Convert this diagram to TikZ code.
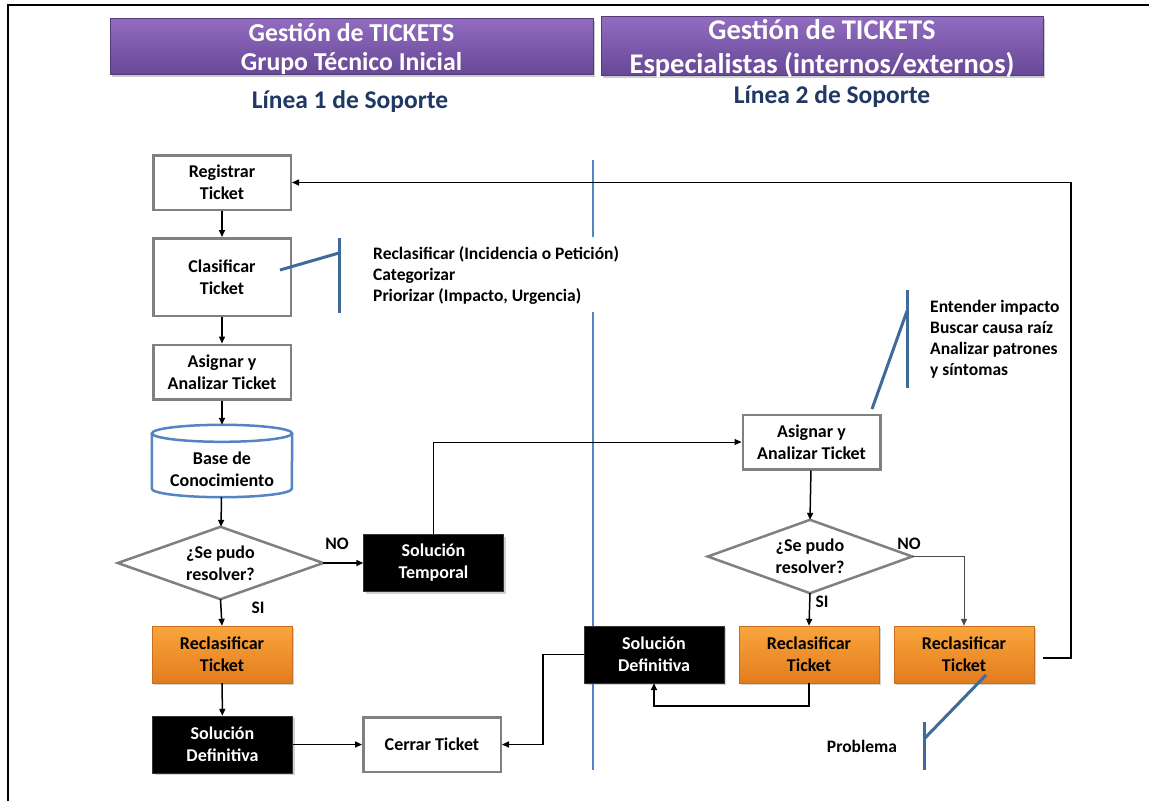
\documentclass[tikz,border=0pt]{standalone}
\usepackage{fontspec}
\setmainfont{Carlito}
\usetikzlibrary{arrows.meta,shadows,backgrounds}

\definecolor{boxgray}{RGB}{128,128,128}
\definecolor{annblue}{RGB}{64,106,154}
\definecolor{divblue}{RGB}{84,132,196}
\definecolor{navy}{RGB}{31,56,100}
\definecolor{purpTop}{RGB}{146,108,192}
\definecolor{purpBot}{RGB}{104,72,150}
\definecolor{orTop}{RGB}{250,165,60}
\definecolor{orBot}{RGB}{226,124,30}
\definecolor{orEdge}{RGB}{200,110,30}

\tikzset{
  txt/.style={font=\bfseries\fontsize{18}{22}\selectfont, align=center},
  plainbox/.style={txt, draw=boxgray, line width=2.5pt, fill=white,
    minimum width=137.5pt, minimum height=54.5pt, inner sep=1pt},
  blackbox/.style={txt, fill=black, draw=black!80, text=white,
    minimum width=140pt, minimum height=57pt, inner sep=1pt,
    drop shadow={opacity=0.35, shadow xshift=2pt, shadow yshift=-2pt}},
  orangebox/.style={txt, top color=orTop, bottom color=orBot, draw=orEdge,
    minimum width=140pt, minimum height=57pt, inner sep=1pt,
    drop shadow={opacity=0.35, shadow xshift=2pt, shadow yshift=-2pt}},
  header/.style={top color=purpTop, bottom color=purpBot, draw=purpBot!80!black,
    inner sep=0pt,
    drop shadow={opacity=0.4, shadow xshift=2pt, shadow yshift=-3pt}},
  headtext/.style={text=white, align=center, inner sep=0pt},
  slot/.style={txt, inner sep=0pt},
  grayline/.style={draw=boxgray, line width=2.5pt, line join=miter},
  conn/.style={line width=1.5pt, -{Triangle[length=7pt,width=6pt]}},
  thinconn/.style={line width=1pt, -{Triangle[length=7pt,width=6pt]}},
  ann/.style={draw=annblue, line width=3pt},
  note/.style={font=\bfseries\fontsize{17.5}{21}\selectfont, align=left,
    anchor=north west, inner sep=0pt},
  lbl/.style={font=\bfseries\fontsize{17.5}{20}\selectfont, inner sep=0pt},
}

\begin{document}
\begin{tikzpicture}[x=1pt,y=-1pt]
\useasboundingbox (0,0) rectangle (1149,801);
\begin{scope}[on background layer]
  \fill[white] (0,0) rectangle (1149,801);
\end{scope}

% page frame
\draw[line width=2.5pt] (8,801) -- (8,5) -- (1149,5);

% column headers
\node[header, minimum width=483pt, minimum height=56pt,
  label={[headtext, yshift=-2.5pt, font=\bfseries\fontsize{25.8}{29}\selectfont]center:{Gestión de TICKETS\\Grupo Técnico Inicial}}]
  (h1) at (351.5,46) {};
\node[header, minimum width=442pt, minimum height=59pt,
  label={[headtext, yshift=-3pt, font=\bfseries\fontsize{28.5}{34}\selectfont]center:{Gestión de TICKETS\\Especialistas (internos/externos)}}]
  (h2) at (822,45.5) {};
\node[text=navy, font=\bfseries\fontsize{25.5}{28}\selectfont] (l1) at (350,102) {Línea 1 de Soporte};
\node[text=navy, font=\bfseries\fontsize{25.5}{28}\selectfont] (l2) at (832,97) {Línea 2 de Soporte};

% divider between support lines
\draw[divblue, line width=1.5pt] (593,160) -- (593,237);
\draw[divblue, line width=1.5pt] (593,312) -- (593,770);

% first line of support
\node[plainbox] (reg) at (222,182.5) {Registrar\\Ticket};
\node[plainbox, minimum height=77.5pt] (cla) at (222,277) {Clasificar\\Ticket};
\node[plainbox] (asg) at (222,372) {Asignar y\\Analizar Ticket};

% knowledge base (cylinder drawn around the node)
\node[slot, minimum width=140pt, minimum height=72pt,
  label={[txt, yshift=-8pt]center:{Base de\\Conocimiento}}] (kb) at (222,461) {};
\draw[draw=divblue, line width=2.5pt]
  ([yshift=-8.5pt]kb.north west) -- ([yshift=8.5pt]kb.south west)
  arc[start angle=180, end angle=360, x radius=70pt, y radius=8.5pt]
  -- ([yshift=-8.5pt]kb.north east);
\draw[draw=divblue, line width=2.5pt] ([yshift=-8.5pt]kb.north) ellipse [x radius=70pt, y radius=8.5pt];

% decision 1
\node[slot, minimum width=205pt, minimum height=72pt] (d1) at (220.5,563) {¿Se pudo\\resolver?};
\draw[grayline] (d1.north) -- (d1.east) -- (d1.south) -- (d1.west) -- cycle;

\node[blackbox] (tmp) at (433.5,563) {Solución\\Temporal};
\node[orangebox] (rc1) at (222,654.5) {Reclasificar\\Ticket};
\node[blackbox] (def1) at (222.5,744.5) {Solución\\Definitiva};
\node[plainbox] (close) at (432,744.5) {Cerrar Ticket};

% second line of support
\node[plainbox] (asg2) at (811.5,442) {Asignar y\\Analizar Ticket};
\node[slot, minimum width=204pt, minimum height=73pt] (d2) at (810,556.5) {¿Se pudo\\resolver?};
\draw[grayline] (d2.north) -- (d2.east) -- (d2.south) -- (d2.west) -- cycle;

\node[blackbox] (def2) at (654,654.5) {Solución\\Definitiva};
\node[orangebox] (rc2) at (809,654.5) {Reclasificar\\Ticket};
\node[orangebox] (rc3) at (964,654.5) {Reclasificar\\Ticket};

% branch labels
\node[lbl] (no1) at (337,544) {NO};
\node[lbl] (si1) at (258,608) {SI};
\node[lbl] (no2) at (909,544) {NO};
\node[lbl] (si2) at (822,602) {SI};

% flow connectors
\draw[conn] (reg) -- (cla);
\draw[conn] (cla) -- (asg);
\draw[conn] (asg) -- (kb);
\draw[conn] (kb) -- (d1);
\draw[conn] (d1.east) -- (tmp.west);
\draw[conn] (d1.south) -- (rc1.north);
\draw[conn] (rc1) -- (def1);
\draw[conn] (def1) -- (close);
\draw[thinconn] (tmp.north) |- (asg2.west);
\draw[conn] (asg2) -- (d2.north);
\draw[conn] (d2.south) -- (rc2.north);
\draw[thinconn, draw=black!70] (d2.east) -| (rc3.north);
\draw[conn] (rc2.south) -- ++(0,23) -| (def2.south);
\draw[conn] (def2.west) -- ++(-41,0) |- (close.east);
\draw[conn] ([xshift=9pt,yshift=-3.5pt]rc3.east) -- ++(28,0) |- (reg.east);

% annotations
\coordinate (c1a) at (280,270);
\coordinate (c1b) at (339,253);
\draw[ann] (c1a) -- (c1b);
\draw[ann] (339,238) -- (339,313);
\node[note] (n1) at (373,246) {Reclasificar (Incidencia o Petición)\\Categorizar\\Priorizar (Impacto, Urgencia)};

\coordinate (c2a) at (872,409);
\coordinate (c2b) at (907,311);
\draw[ann] (c2a) -- (c2b);
\draw[ann] (907,290) -- (907,388);
\node[note] (n2) at (930,300) {Entender impacto\\Buscar causa raíz\\Analizar patrones\\y síntomas};

\coordinate (c3a) at (986,675);
\coordinate (c3b) at (924,739);
\draw[ann] (c3a) -- (c3b);
\draw[ann] (924,722) -- (924,770);
\node[lbl] (n3) at (862,746) {Problema};

\end{tikzpicture}
\end{document}
